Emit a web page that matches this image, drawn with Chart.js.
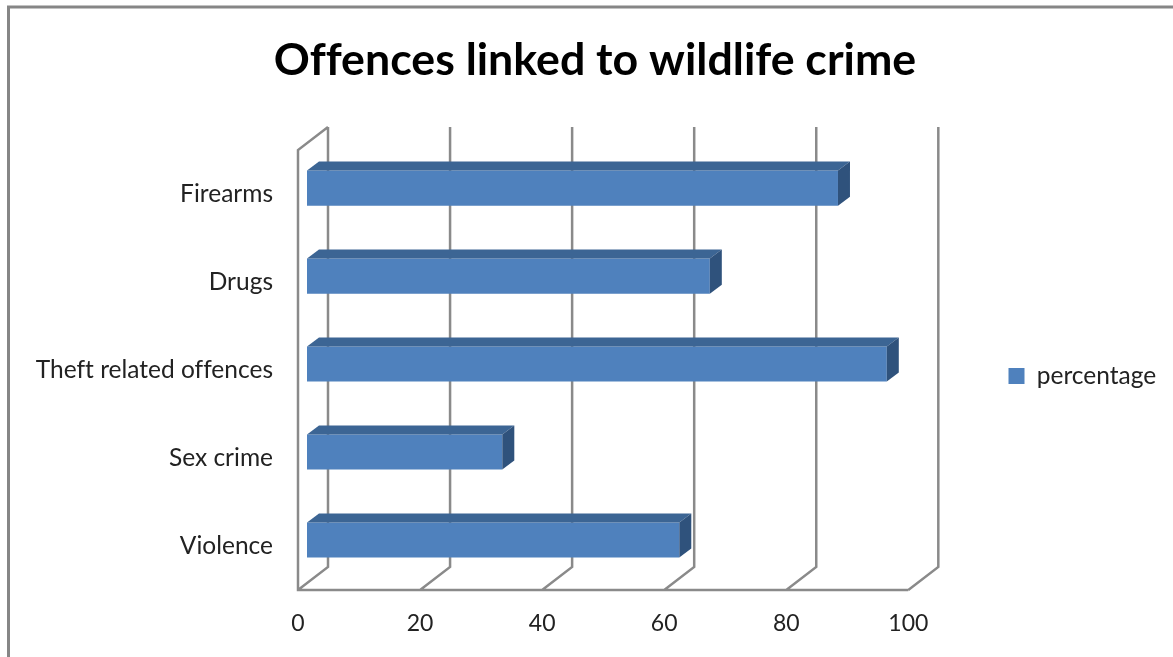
<!DOCTYPE html>
<html>
<head>
<meta charset="utf-8">
<title>Offences linked to wildlife crime</title>
<script src="https://cdn.jsdelivr.net/npm/chart.js@4/dist/chart.umd.js"></script>
<style>
    html, body { margin: 0; padding: 0; background: #fff; overflow: hidden; }
    canvas { display: block; }
</style>
</head>
<body>
<canvas id="chart" width="1173" height="657"></canvas>
<script>
const categories = ["Firearms", "Drugs", "Theft related offences", "Sex crime", "Violence"];
const percentage = [87, 66, 95, 32, 61];
const xTicks = [0, 20, 40, 60, 80, 100];

const FONT = "Lato";
const GRID = "#8A8A8A";

// The 3D look: the walls sit behind the axes, bars float part way in.
const WALL_DX = 30, WALL_DY = -23;
const BAR_DX = 9, BAR_DY = -6;
const DEPTH_DX = 12, DEPTH_DY = -9;

function fillPoly(ctx, color, pts) {
    ctx.fillStyle = color;
    ctx.beginPath();
    pts.forEach((p, i) => i ? ctx.lineTo(p[0], p[1]) : ctx.moveTo(p[0], p[1]));
    ctx.closePath();
    ctx.fill();
}

const boxWalls = {
    id: "boxWalls",
    beforeLayout(chart) {
        // the reference has no ff ligature, this switches them off
        chart.ctx.textRendering = "optimizeSpeed";
    },
    beforeDraw(chart) {
        const { ctx, chartArea: area, scales: { x } } = chart;
        ctx.save();
        // outer frame, cut by the right and bottom of the picture
        ctx.strokeStyle = "#868686";
        ctx.lineWidth = 3;
        ctx.beginPath();
        ctx.moveTo(8.5, 657);
        ctx.lineTo(8.5, 7);
        ctx.lineTo(1173, 7);
        ctx.stroke();

        ctx.strokeStyle = GRID;
        ctx.lineWidth = 2.5;
        ctx.beginPath();
        xTicks.forEach((t) => {
            const px = x.getPixelForValue(t);
            ctx.moveTo(px, area.bottom);
            ctx.lineTo(px + WALL_DX, area.bottom + WALL_DY);
            ctx.lineTo(px + WALL_DX, area.top + WALL_DY);
        });
        ctx.moveTo(x.getPixelForValue(0) + WALL_DX, area.top + WALL_DY);
        ctx.lineTo(x.getPixelForValue(0), area.top);
        ctx.lineTo(x.getPixelForValue(0), area.bottom);
        ctx.lineTo(x.getPixelForValue(100), area.bottom);
        ctx.stroke();
        ctx.restore();
    },
    beforeDatasetsDraw(chart) {
        chart.ctx.save();
        chart.ctx.translate(BAR_DX, BAR_DY);
    },
    afterDatasetsDraw(chart) {
        const ctx = chart.ctx;
        chart.getDatasetMeta(0).data.forEach((bar) => {
            const top = bar.y - bar.height / 2, bottom = bar.y + bar.height / 2;
            fillPoly(ctx, "#3C6594", [
                [bar.base, top], [bar.base + DEPTH_DX, top + DEPTH_DY],
                [bar.x + DEPTH_DX, top + DEPTH_DY], [bar.x, top]
            ]);
            fillPoly(ctx, "#2F527C", [
                [bar.x, top], [bar.x + DEPTH_DX, top + DEPTH_DY],
                [bar.x + DEPTH_DX, bottom + DEPTH_DY], [bar.x, bottom]
            ]);
        });
        ctx.restore();
    },
    afterLayout(chart) {
        // legend sits lower and further right than the layout would place it
        const legend = chart.legend;
        const w = legend.width;
        legend.left = 998.5;
        legend.right = legend.left + w;
        legend.top = 150;
        legend.bottom = 602;
        // title is centred a bit right of the canvas middle
        chart.titleBlock.left = 17;
        chart.titleBlock.right = 1173;
    }
};

new Chart(document.getElementById("chart"), {
    type: "bar",
    data: {
        labels: categories,
        datasets: [{
            label: "percentage",
            data: percentage,
            backgroundColor: "#4F81BD",
            borderWidth: 0,
            categoryPercentage: 1,
            barPercentage: 0.4
        }]
    },
    options: {
        indexAxis: "y",
        responsive: false,
        animation: false,
        layout: { padding: { left: 0, right: 97, top: 0, bottom: 0 } },
        scales: {
            x: {
                min: 0,
                max: 100,
                afterBuildTicks(scale) { scale.ticks = xTicks.map((v) => ({ value: v })); },
                afterFit(scale) { scale.height = 67; },
                grid: { display: false, drawTicks: false },
                border: { display: false },
                ticks: { padding: 20, color: "#222", maxRotation: 0, font: { family: FONT, size: 23 } }
            },
            y: {
                afterFit(scale) { scale.width = 298; },
                grid: { display: false, drawTicks: false },
                border: { display: false },
                ticks: { padding: 25, color: "#222", autoSkip: false, font: { family: FONT, size: 24.5 } }
            }
        },
        plugins: {
            title: {
                display: true,
                text: "Offences linked to wildlife crime",
                color: "#000",
                font: { family: FONT, size: 44.7, weight: "bold" },
                padding: { top: 33.5, bottom: 62.9 }
            },
            legend: {
                position: "right",
                labels: {
                    boxWidth: 16,
                    boxHeight: 16,
                    color: "#222",
                    font: { family: FONT, size: 24.5 }
                }
            },
            tooltip: { enabled: false }
        }
    },
    plugins: [boxWalls]
});
</script>
</body>
</html>
